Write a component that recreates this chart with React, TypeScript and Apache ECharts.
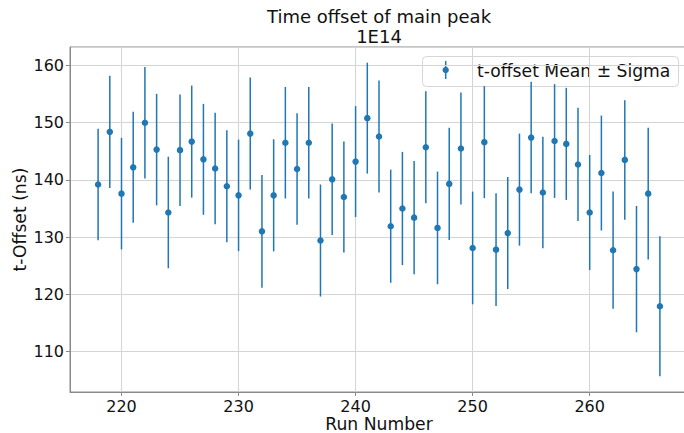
import React, { useEffect, useRef } from "react";
import * as echarts from "echarts";

const runs = [
  218, 219, 220, 221, 222, 223, 224, 225, 226, 227, 228, 229, 230, 231, 232, 233, 234,
  235, 236, 237, 238, 239, 240, 241, 242, 243, 244, 245, 246, 247, 248, 249, 250, 251,
  252, 253, 254, 255, 256, 257, 258, 259, 260, 261, 262, 263, 264, 265, 266,
];
const means = [
  139.2, 148.4, 137.6, 142.2, 150.0, 145.3, 134.3, 145.2, 146.7, 143.6, 142.0, 138.9, 137.3, 148.1, 131.0, 137.3, 146.5,
  141.9, 146.5, 129.4, 140.1, 137.0, 143.2, 150.8, 147.6, 131.9, 135.0, 133.4, 145.7, 131.6, 139.3, 145.5, 128.1, 146.6,
  127.8, 130.7, 138.3, 147.4, 137.8, 146.8, 146.3, 142.7, 134.3, 141.2, 127.7, 143.5, 124.4, 137.6, 117.9,
];
const sigmas = [
  9.75, 9.8, 9.75, 9.7, 9.75, 9.75, 9.75, 9.75, 9.8, 9.7, 9.75, 9.8, 9.75, 9.8, 9.85, 9.8, 9.75,
  9.75, 9.75, 9.8, 9.75, 9.7, 9.7, 9.7, 9.8, 9.9, 9.9, 9.9, 9.8, 9.85, 9.8, 9.8, 9.85, 9.8,
  9.85, 9.8, 9.8, 9.75, 9.75, 9.95, 9.8, 9.9, 10.05, 10.05, 10.25, 10.45, 11.05, 11.5, 12.25,
];
const xTicks = [220, 230, 240, 250, 260];
const yTicks = [110, 120, 130, 140, 150, 160];

const titleText = "Time offset of main peak\n1E14";
const legendText = "t-offset Mean \u00b1 Sigma";
const FONT = "DejaVu Sans";
const BLUE = "#1f77b4";

export default function App() {
  const ref = useRef<HTMLDivElement>(null);
  useEffect(() => {
    if (!ref.current) return;
    const chart = echarts.init(ref.current, undefined, { renderer: "svg" });
    const xMin = runs[0] - 0.05 * (runs[runs.length - 1] - runs[0]);
    const xMax = runs[runs.length - 1] + 0.05 * (runs[runs.length - 1] - runs[0]);
    const lows = means.map((m, i) => m - sigmas[i]);
    const highs = means.map((m, i) => m + sigmas[i]);
    const lo = Math.min(...lows);
    const hi = Math.max(...highs);
    const yMin = lo - 0.05 * (hi - lo);
    const yMax = hi + 0.05 * (hi - lo);
    const axisColor = "#8a8a8a";
    const gridColor = "#d4d4d4";
    chart.setOption({
      animation: false,
      backgroundColor: "#ffffff",
      textStyle: { fontFamily: FONT },
      title: {
        text: titleText,
        left: 379,
        top: 6.5,
        padding: 0,
        textAlign: "center",
        textStyle: { fontFamily: FONT, fontSize: 18, fontWeight: "normal", color: "#111", lineHeight: 20 },
      },
      grid: {
        left: 70,
        top: 47,
        width: 618,
        height: 345,
        show: true,
        borderColor: axisColor,
        borderWidth: 1,
        containLabel: false,
        outerBoundsMode: "none",
      },
      xAxis: {
        type: "value",
        min: xMin,
        max: xMax,
        splitNumber: 5,
        name: "Run Number",
        nameLocation: "middle",
        nameGap: 24,
        nameMoveOverlap: false,
        nameTextStyle: { fontFamily: FONT, fontSize: 17.2, color: "#111", lineHeight: 16 },
        axisLine: { show: true, onZero: false, lineStyle: { color: axisColor, width: 1 } },
        axisTick: { show: true, length: 4, inside: false, lineStyle: { color: axisColor } },
        axisLabel: {
          margin: 6,
          fontFamily: FONT,
          fontSize: 16,
          color: "#111",
          showMinLabel: false,
          showMaxLabel: false,
          formatter: (v: number) => (xTicks.includes(Math.round(v * 1000) / 1000) ? String(v) : ""),
        },
        splitLine: { show: true, lineStyle: { color: gridColor, width: 1 } },
      },
      yAxis: {
        type: "value",
        min: yMin,
        max: yMax,
        splitNumber: 6,
        name: "t-Offset (ns)",
        nameLocation: "middle",
        nameGap: 42,
        nameMoveOverlap: false,
        nameTextStyle: { fontFamily: FONT, fontSize: 17.2, color: "#111", lineHeight: 17 },
        axisLine: { show: true, lineStyle: { color: axisColor, width: 1 } },
        axisTick: { show: true, length: 4, inside: false, lineStyle: { color: axisColor } },
        axisLabel: {
          margin: 6,
          fontFamily: FONT,
          fontSize: 16,
          color: "#111",
          showMinLabel: false,
          showMaxLabel: false,
          formatter: (v: number) => (yTicks.includes(Math.round(v * 1000) / 1000) ? String(v) : ""),
        },
        splitLine: { show: true, lineStyle: { color: gridColor, width: 1 } },
      },
      series: [
        {
          type: "custom",
          name: "sigma",
          z: 2,
          data: runs.map((r, i) => [r, lows[i], highs[i]]),
          renderItem: (params: any, api: any) => {
            const x = api.value(0);
            const p1 = api.coord([x, api.value(1)]);
            const p2 = api.coord([x, api.value(2)]);
            return {
              type: "line",
              shape: { x1: p1[0], y1: p1[1], x2: p2[0], y2: p2[1] },
              style: { stroke: BLUE, lineWidth: 1.5 },
            };
          },
        },
        {
          type: "scatter",
          name: legendText,
          z: 3,
          symbol: "circle",
          symbolSize: 6.5,
          itemStyle: { color: BLUE, opacity: 1 },
          data: runs.map((r, i) => [r, means[i]]),
        },
      ],
      graphic: [
        {
          type: "group",
          z: 100,
          children: [
            {
              type: "rect",
              shape: { x: 422.5, y: 56.5, width: 256, height: 30, r: 4 },
              style: { fill: "rgba(255,255,255,0.8)", stroke: "#d6d6d6", lineWidth: 1 },
            },
            {
              type: "line",
              shape: { x1: 445.7, y1: 61, x2: 445.7, y2: 79 },
              style: { stroke: BLUE, lineWidth: 1.5 },
            },
            {
              type: "circle",
              shape: { cx: 445.7, cy: 70, r: 3.2 },
              style: { fill: BLUE },
            },
            {
              type: "text",
              x: 477,
              y: 71,
              style: {
                text: legendText,
                fontFamily: FONT,
                fontSize: 17.2,
                fill: "#111",
                textVerticalAlign: "middle",
                verticalAlign: "middle",
              },
            },
          ],
        },
      ],
    });
    return () => chart.dispose();
  }, []);
  return (
    <div
      ref={ref}
      style={{ position: "fixed", left: 0, top: 0, width: 684, height: 433, background: "#fff" }}
    />
  );
}
